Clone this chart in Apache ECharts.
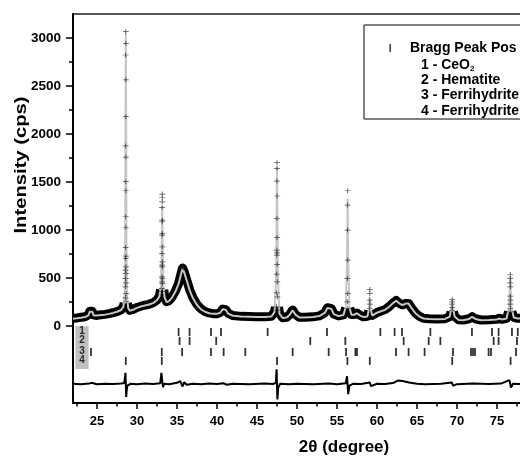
<!DOCTYPE html>
<html><head><meta charset="utf-8">
<script src="https://cdn.jsdelivr.net/npm/echarts@6/dist/echarts.min.js"></script>
<style>html,body{margin:0;padding:0;background:#fff}#c{width:520px;height:457px}</style>
</head><body><div id="c"></div>
<script>
// Axis ranges and ticks
const xMin = 22, xMax = 80, yMin = -800, yMax = 3250;
const xMajorTicks = [25, 30, 35, 40, 45, 50, 55, 60, 65, 70, 75];
const xMinorTicks = [22.5, 27.5, 32.5, 37.5, 42.5, 47.5, 52.5, 57.5, 62.5, 67.5, 72.5, 77.5];
const yMajorTicks = [0, 500, 1000, 1500, 2000, 2500, 3000];
const yMinorTicks = [250, 750, 1250, 1750, 2250, 2750];

// Calculated profile (grey line): [2theta, intensity]
const calcProfile = [
[22.0,78],[22.5,82],[23.0,88],[23.5,95],[23.9,110],[24.1,150],[24.25,170],[24.4,150],[24.6,110],[25.0,110],
[25.5,115],[26.0,120],[26.5,128],[27.0,138],[27.5,150],[28.0,168],[28.3,200],[28.45,320],[28.52,900],[28.56,2200],
[28.6,3050],[28.64,2200],[28.68,900],[28.75,320],[28.9,190],[29.1,160],[29.5,170],[30.0,190],[30.5,205],[31.0,215],
[31.5,225],[32.0,240],[32.5,270],[32.8,310],[33.0,420],[33.08,800],[33.15,1250],[33.22,800],[33.3,420],[33.45,300],
[33.7,250],[34.0,260],[34.4,300],[34.8,360],[35.2,440],[35.5,540],[35.7,600],[35.9,560],[36.2,480],[36.6,370],
[37.0,290],[37.5,220],[38.0,175],[38.5,150],[39.0,135],[39.5,128],[40.0,128],[40.4,140],[40.7,175],[40.9,190],
[41.1,170],[41.4,130],[42.0,108],[43.0,100],[44.0,98],[45.0,96],[46.0,95],[46.8,100],[47.2,150],[47.38,500],
[47.45,1200],[47.5,1660],[47.55,1200],[47.62,500],[47.8,130],[48.2,85],[48.7,90],[49.1,120],[49.45,165],[49.8,120],
[50.3,90],[51.0,90],[52.0,95],[52.8,105],[53.5,140],[53.8,190],[54.05,210],[54.3,180],[54.6,125],[55.2,105],
[55.8,115],[56.1,200],[56.25,700],[56.33,1330],[56.4,700],[56.55,200],[56.8,120],[57.2,120],[57.5,135],[57.8,115],
[58.3,95],[58.8,100],[59.0,180],[59.1,306],[59.2,180],[59.4,110],[60.0,140],[60.5,155],[61.0,170],[61.5,200],
[62.0,240],[62.4,265],[62.8,235],[63.2,220],[63.6,235],[63.95,235],[64.3,190],[64.8,135],[65.3,100],[65.8,80],
[66.5,75],[67.5,72],[68.5,75],[69.1,100],[69.3,200],[69.4,240],[69.5,200],[69.7,100],[70.2,65],[70.8,62],
[71.5,75],[71.9,97],[72.3,75],[73.0,62],[74.0,65],[75.0,70],[75.3,80],[75.6,70],[76.2,80],[76.5,200],
[76.66,514],[76.8,200],[77.1,90],[77.6,80],[78.5,78],[80.0,75]
];

// Observed data, dense low-intensity band (null = gap at sharp peaks)
const observedBand = [
[22.0,82],[22.5,86],[23.0,92],[23.5,98],[23.9,115],[24.1,155],[24.25,175],[24.4,155],[24.6,115],[25.0,112],
[25.5,118],[26.0,123],[26.5,130],[27.0,140],[27.5,152],[28.0,170],[28.3,205],[28.4,240],null,[28.8,240],
[28.9,195],[29.1,165],[29.5,175],[30.0,195],[30.5,208],[31.0,218],[31.5,228],[32.0,243],[32.5,272],[32.8,315],
[32.95,380],null,[33.35,380],[33.45,305],[33.7,255],[34.0,265],[34.4,305],[34.8,365],[35.2,445],[35.5,545],
[35.7,605],[35.9,565],[36.2,485],[36.6,375],[37.0,295],[37.5,225],[38.0,180],[38.5,152],[39.0,138],[39.5,130],
[40.0,130],[40.4,142],[40.7,178],[40.9,192],[41.1,172],[41.4,133],[42.0,110],[43.0,102],[44.0,100],[45.0,98],
[46.0,97],[46.8,102],[47.2,155],[47.3,200],null,[47.7,200],[47.8,135],[48.2,88],[48.7,92],[49.1,122],
[49.45,168],[49.8,122],[50.3,92],[51.0,92],[52.0,97],[52.8,107],[53.5,142],[53.8,192],[54.05,212],[54.3,182],
[54.6,127],[55.2,107],[55.8,117],[56.1,190],null,[56.6,190],[56.8,122],[57.2,122],[57.5,137],[57.8,117],
[58.3,97],[58.8,102],[59.0,160],null,[59.25,160],[59.4,112],[60.0,142],[60.5,157],[61.0,172],[61.5,202],
[62.0,242],[62.4,267],[62.8,237],[63.2,222],[63.6,237],[63.95,237],[64.3,192],[64.8,137],[65.3,102],[65.8,82],
[66.5,77],[67.5,74],[68.5,77],[69.1,100],[69.25,150],null,[69.55,150],[69.7,102],[70.2,67],[70.8,64],
[71.5,77],[71.9,99],[72.3,77],[73.0,64],[74.0,67],[75.0,72],[75.3,82],[75.6,72],[76.2,82],[76.45,150],
null,[76.85,150],[77.1,92],[77.6,82],[78.5,80],[80.0,77]
];

// Observed points visible as crosses on the sharp peaks
const observedPeakPoints = [
[28.6,3066],[28.61,2945],[28.59,2823],[28.61,2565],[28.6,2181],[28.59,1877],[28.61,1760],[28.6,1504],[28.62,1410],[28.59,1139],
[28.61,1030],[28.58,818],[28.62,729],[28.58,705],[28.62,618],[28.58,583],[28.62,549],[28.57,497],[28.63,451],[28.57,410],
[28.63,341],[28.56,295],[28.64,253],
[33.15,1375],[33.15,1337],[33.16,1295],[33.14,1237],[33.16,1104],[33.14,1087],[33.16,966],[33.14,948],[33.16,826],[33.13,757],
[33.17,670],[33.13,636],[33.17,618],[33.12,514],[33.18,497],[33.12,462],[33.18,445],[33.11,393],[33.19,360],
[47.5,1702],[47.5,1643],[47.49,1511],[47.51,1355],[47.49,1122],[47.51,924],[47.48,792],[47.52,764],[47.48,740],[47.52,643],
[47.47,542],[47.53,462],[47.46,347],[47.54,305],[47.44,201],[47.56,167],
[56.33,1410],[56.33,1261],[56.32,1000],[56.34,688],[56.31,497],[56.35,341],[56.3,253],[56.36,184],
[59.1,382],[59.1,341],[59.09,271],[59.11,229],[59.08,184],
[69.4,278],[69.41,253],[69.39,229],[69.41,195],[69.38,160],
[76.66,538],[76.66,497],[76.65,451],[76.67,410],[76.65,313],[76.67,271],[76.64,229],[76.68,184],[76.63,149],
[35.65,615],[35.72,622],[35.78,605]
];

// Difference curve (observed - calculated, offset)
const difference = [
[22.0,-600],[23.0,-605],[24.0,-598],[24.3,-590],[25.0,-605],[26.0,-600],[27.0,-603],[28.0,-598],[28.4,-592],[28.5,-530],
[28.56,-486],[28.6,-600],[28.65,-736],[28.7,-680],[28.8,-620],[29.2,-600],[30.0,-604],[31.0,-598],[32.0,-603],[32.9,-595],
[33.05,-486],[33.15,-570],[33.25,-635],[33.4,-600],[34.0,-604],[35.0,-590],[35.4,-572],[35.7,-628],[35.9,-582],[36.2,-610],
[37.0,-600],[38.0,-605],[39.0,-598],[40.0,-603],[40.8,-594],[41.2,-610],[42.0,-600],[44.0,-604],[46.0,-598],[47.0,-602],
[47.35,-590],[47.45,-448],[47.55,-764],[47.65,-640],[47.9,-600],[49.0,-606],[50.0,-600],[52.0,-604],[54.0,-596],[55.0,-604],
[56.1,-595],[56.25,-521],[56.4,-708],[56.55,-620],[57.0,-600],[58.0,-602],[59.1,-586],[59.25,-624],[60.0,-600],[61.0,-603],
[62.0,-592],[62.6,-566],[63.2,-572],[64.0,-586],[65.0,-600],[66.0,-605],[68.0,-600],[69.35,-586],[69.5,-620],[70.0,-604],
[72.0,-598],[74.0,-602],[75.5,-598],[76.55,-562],[76.75,-640],[77.0,-600],[78.0,-603],[80.0,-600]
];

// Bragg reflection positions (2theta) for the four rows, and each row's vertical level
const braggRow1 = [35.2,36.57,39.25,40.5,46.33,53.75,60.42,62.2,63.13,66.67,71.87,74.37,75.2,76.87,77.6];
const braggRow2 = [35.32,36.57,39.9,51.66,56.04,63.33,66.46,67.92,74.58,75.2,77.5];
const braggRow3 = [24.25,33.1,35.64,39.25,40.83,43.54,49.46,53.96,56.13,57.3,57.5,62.37,63.95,65.95,69.5,71.75,72.0,72.25,73.95,74.25,77.37];
const braggRow4 = [28.6,33.1,47.5,56.3,59.1,69.4,76.7];
const braggLevels = [-60, -154, -269, -362];
const rowLabels = ['1', '2', '3', '4'];

// Legend entries
const legendTitle = 'Bragg Peak Pos';
const legendItems = [['1 - CeO', '2'], ['2 - Hematite', ''], ['3 - Ferrihydrite', ''], ['4 - Ferrihydrite', '']];

const FONT = '"Liberation Sans", Arial, sans-serif';
const gap = ['-', '-'];
const braggData = [];
[braggRow1, braggRow2, braggRow3, braggRow4].forEach((row, i) => row.forEach(x => braggData.push([x, braggLevels[i]])));

const chart = echarts.init(document.getElementById('c'), null, {renderer: 'canvas'});
chart.setOption({
  animation: false,
  backgroundColor: '#fff',
  grid: {left: 73, top: 14, width: 464, height: 389, show: true, borderColor: '#222', borderWidth: 1.5,
         backgroundColor: 'transparent', containLabel: false, outerBoundsMode: 'none'},
  xAxis: [
    {type: 'value', min: xMin, max: xMax, position: 'bottom',
     axisLine: {show: true, onZero: false, lineStyle: {color: '#000', width: 2}},
     axisTick: {show: true, customValues: xMajorTicks, length: 6, lineStyle: {color: '#000', width: 1.5}},
     axisLabel: {customValues: xMajorTicks, color: '#000', fontFamily: FONT, fontWeight: 'bold', fontSize: 13, margin: 12},
     splitLine: {show: false}},
    {type: 'value', min: xMin, max: xMax, position: 'bottom', gridIndex: 0,
     axisLine: {show: false, onZero: false},
     axisTick: {show: true, customValues: xMinorTicks, length: 3.5, lineStyle: {color: '#000', width: 1.5}},
     axisLabel: {show: false}, splitLine: {show: false}}
  ],
  yAxis: [
    {type: 'value', min: yMin, max: yMax, position: 'left',
     axisLine: {show: true, onZero: false, lineStyle: {color: '#000', width: 2}},
     axisTick: {show: true, customValues: yMajorTicks, length: 7, lineStyle: {color: '#000', width: 1.5}},
     axisLabel: {customValues: yMajorTicks, formatter: v => String(v), color: '#000', fontFamily: FONT, fontWeight: 'bold', fontSize: 13.5, margin: 12},
     splitLine: {show: false}},
    {type: 'value', min: yMin, max: yMax, position: 'left',
     axisLine: {show: false, onZero: false},
     axisTick: {show: true, customValues: yMinorTicks, length: 4, lineStyle: {color: '#000', width: 1.5}},
     axisLabel: {show: false}, splitLine: {show: false}}
  ],
  series: [
    {type: 'line', name: 'obsBand', data: observedBand.map(p => p === null ? gap : p), showSymbol: false, connectNulls: false,
     lineStyle: {color: '#000', width: 9, join: 'round'}, z: 2, silent: true,
     markArea: {silent: true, itemStyle: {color: '#c0c0c0'}, data: [[{coord: [22.29, 0]}, {coord: [23.95, -446]}]]}},
    {type: 'line', name: 'calc', data: calcProfile, showSymbol: false, lineStyle: {color: '#c6c6c6', width: 2}, z: 3, silent: true},
    {type: 'scatter', name: 'obsPts', data: observedPeakPoints, symbol: 'path://M0,4.3H10V5.7H0Z M4.3,0H5.7V10H4.3Z', symbolSize: [6, 5],
     itemStyle: {color: '#222'}, z: 4, silent: true},
    {type: 'line', name: 'diff', data: difference, showSymbol: false, lineStyle: {color: '#000', width: 2}, z: 3, silent: true},
    {type: 'scatter', name: 'bragg', data: braggData, symbol: 'rect', symbolSize: [1.8, 8], itemStyle: {color: '#000'}, z: 4, silent: true},
    {type: 'scatter', name: 'rowLabels', data: braggLevels.map((v, i) => [23.12, v + 8, rowLabels[i]]), symbolSize: 0, z: 5, silent: true,
     label: {show: true, position: 'inside', formatter: p => p.data[2], color: '#000', fontFamily: FONT, fontWeight: 'bold', fontSize: 10}}
  ],
  graphic: [
    {type: 'text', x: 21, y: 165, rotation: Math.PI / 2, scaleX: 1.19,
     style: {text: 'Intensity (cps)', font: 'bold 17px ' + FONT, fill: '#000', align: 'center', verticalAlign: 'middle'}},
    {type: 'text', x: 344, y: 447, style: {text: '2θ (degree)', font: 'bold 17px ' + FONT, fill: '#000', align: 'center', verticalAlign: 'middle'}},
    {type: 'rect', shape: {x: 364, y: 25, width: 200, height: 94}, style: {fill: '#fff', stroke: '#000', lineWidth: 1}, z: 10},
    {type: 'rect', shape: {x: 389.5, y: 44, width: 1.2, height: 8}, style: {fill: '#000'}, z: 11},
    {type: 'text', x: 410, y: 48, z: 11, style: {text: legendTitle, font: 'bold 14px ' + FONT, fill: '#000', verticalAlign: 'middle'}},
    ...legendItems.map((it, i) => ({type: 'text', x: 421, y: 65 + i * 15.3, z: 11,
      style: {text: '{a|' + it[0] + '}' + (it[1] ? '{s|' + it[1] + '}' : ''), verticalAlign: 'middle',
        rich: {a: {font: 'bold 14px ' + FONT, fill: '#000', color: '#000'}, s: {font: 'bold 8px ' + FONT, color: '#000', padding: [8, 0, 0, 0]}}}}))
  ]
});
</script></body></html>
